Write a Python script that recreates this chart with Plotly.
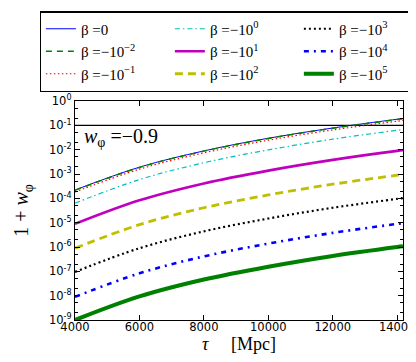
import plotly.graph_objects as go

tau = [4000, 6000, 8000, 10000, 12000, 14000, 14180]

beta_labels = ["β =0", "β =−10<sup>−2</sup>", "β =−10<sup>−1</sup>",
               "β =−10<sup>0</sup>", "β =−10<sup>1</sup>", "β =−10<sup>2</sup>",
               "β =−10<sup>3</sup>", "β =−10<sup>4</sup>", "β =−10<sup>5</sup>"]

y_b0    = [2.19e-4, 1.91e-3, 8.9e-3, 2.95e-2, 7.76e-2, 0.178, 0.19]
y_bm2   = [2.14e-4, 1.86e-3, 8.7e-3, 2.88e-2, 7.6e-2, 0.174, 0.186]
y_bm1   = [1.82e-4, 1.58e-3, 7.4e-3, 2.45e-2, 6.46e-2, 0.148, 0.158]
y_b1e0  = [6.3e-5, 5.9e-4, 2.9e-3, 9.8e-3, 2.7e-2, 6.3e-2, 6.8e-2]
y_b1e1  = [8.9e-6, 8.3e-5, 4.1e-4, 1.38e-3, 3.8e-3, 8.9e-3, 9.5e-3]
y_b1e2  = [8.9e-7, 8.3e-6, 4.1e-5, 1.38e-4, 3.8e-4, 8.9e-4, 9.5e-4]
y_b1e3  = [9.5e-8, 8.9e-7, 4.4e-6, 1.48e-5, 4.1e-5, 9.5e-5, 1.02e-4]
y_b1e4  = [8.9e-9, 8.3e-8, 4.1e-7, 1.38e-6, 3.8e-6, 8.9e-6, 9.5e-6]
y_b1e5  = [1.0e-9, 9.3e-9, 4.6e-8, 1.55e-7, 4.3e-7, 1.0e-6, 1.07e-6]

w_line_x = [4000, 14180]
w_line_y = [0.1, 0.1]

ytick_vals = [1e0, 1e-1, 1e-2, 1e-3, 1e-4, 1e-5, 1e-6, 1e-7, 1e-8, 1e-9]
ytick_text = ["10<sup>0</sup>", "10<sup>-1</sup>", "10<sup>-2</sup>", "10<sup>-3</sup>",
              "10<sup>-4</sup>", "10<sup>-5</sup>", "10<sup>-6</sup>", "10<sup>-7</sup>",
              "10<sup>-8</sup>", "10<sup>-9</sup>"]
xtick_vals = [4000, 6000, 8000, 10000, 12000, 14000]
xtick_text = ["4000", "6000", "8000", "10000", "12000", "14000"]

series = [y_b0, y_bm2, y_bm1, y_b1e0, y_b1e1, y_b1e2, y_b1e3, y_b1e4, y_b1e5]
styles = [
    dict(color="#0000ff", width=1, dash="solid"),
    dict(color="#008000", width=1.5, dash="6px,5px"),
    dict(color="#ff0000", width=1.2, dash="1.5px,2.5px"),
    dict(color="#00bfbf", width=1.2, dash="5px,3px,1.5px,3px"),
    dict(color="#bf00bf", width=2.6, dash="solid"),
    dict(color="#bfbf00", width=2.8, dash="8px,5px"),
    dict(color="#000000", width=2.2, dash="2px,3px"),
    dict(color="#0000ff", width=2.6, dash="5px,5px,2px,5px"),
    dict(color="#008000", width=4, dash="solid"),
]
# column-major legend ordering for a 3-column horizontal legend
ranks = [1, 4, 7, 2, 5, 8, 3, 6, 9]

fig = go.Figure()
fig.add_trace(go.Scatter(x=w_line_x, y=w_line_y, mode="lines",
                         line=dict(color="black", width=1.3), showlegend=False))
for ys, st, lab, rk in zip(series, styles, beta_labels, ranks):
    fig.add_trace(go.Scatter(x=tau, y=ys, mode="lines", name=lab, legendrank=rk,
                             line=dict(color=st["color"], width=st["width"],
                                       dash=st["dash"], shape="spline")))

fig.add_annotation(x=0.02, y=0.835, xref="paper", yref="paper", xanchor="left",
                   yanchor="middle", showarrow=False,
                   text="<i>w</i><sub>φ</sub> =−0.9",
                   font=dict(family="Liberation Serif", size=20, color="black"))

fig.update_layout(
    width=416, height=362,
    margin=dict(l=67, r=21, t=93, b=50, autoexpand=False),
    plot_bgcolor="white", paper_bgcolor="white",
    font=dict(family="DejaVu Sans", size=11.5, color="black"),
    legend=dict(orientation="h", x=-0.108, y=1.41, xanchor="left", yanchor="top",
                entrywidth=84, entrywidthmode="pixels",
                bordercolor="black", borderwidth=1.3, bgcolor="rgba(255,255,255,0)",
                font=dict(family="Liberation Serif", size=15), tracegroupgap=0,
                itemwidth=30),
    xaxis=dict(range=[4000, 14180], tickvals=xtick_vals, ticktext=xtick_text,
               ticks="inside", ticklen=5, ticklabelstandoff=-4,
               ticklabeloverflow="allow",
               showgrid=False, zeroline=False, showline=True, linecolor="black",
               linewidth=1.3, mirror="ticks", tickcolor="black",
               title=dict(text="<i>τ</i>     [Mpc]", standoff=2,
                          font=dict(family="Liberation Serif", size=18))),
    yaxis=dict(type="log", range=[-9, 0], tickvals=ytick_vals, ticktext=ytick_text,
               ticks="inside", ticklen=5, showgrid=False, zeroline=False,
               showline=True, linecolor="black", linewidth=1.3, mirror="ticks",
               tickcolor="black",
               minor=dict(ticks="inside", ticklen=2.5, tickcolor="black", showgrid=False),
               title=dict(text="1 + <i>w</i><sub>φ</sub>", standoff=14,
                          font=dict(family="Liberation Serif", size=20))),
)

fig.write_html("out.html")
